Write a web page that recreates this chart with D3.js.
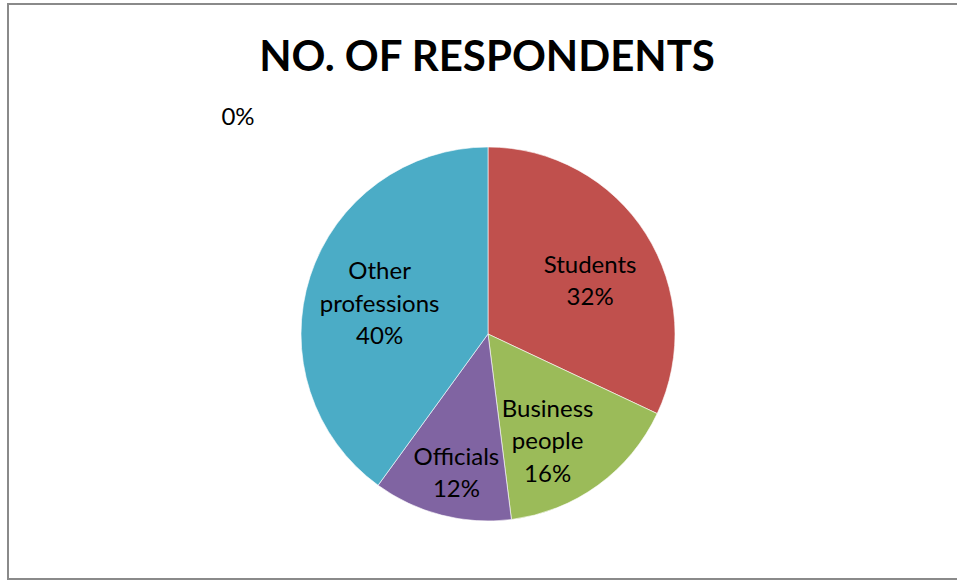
<!DOCTYPE html>
<html>
<head>
<meta charset="utf-8">
<script src="https://cdn.jsdelivr.net/npm/d3@7"></script>
<style>
  html, body { margin: 0; padding: 0; background: #fff; }
  svg { display: block; }
</style>
</head>
<body>
<svg id="chart" width="957" height="584"></svg>
<script>
// Respondent groups and their shares (percent)
const categories = ["", "Students", "Business people", "Officials", "Other professions"];
const shares = [0, 32, 16, 12, 40];
const sliceColors = ["#4F81BD", "#C0504D", "#9BBB59", "#8064A2", "#4BACC6"];
const chartTitle = "NO. OF RESPONDENTS";

// Label text lines per slice (category name wrapped, then percentage)
const labelLines = [[], ["Students"], ["Business", "people"], ["Officials"], ["Other", "professions"]];

// Layout: per-slice nudges of the label block from the arc centroid
const labelNudge = [
  { dx: -250, dy: -102 },
  { dx: 5, dy: 8 },
  { dx: -8, dy: 14 },
  { dx: -3, dy: 27 },
  { dx: 1, dy: 5 }
];

const W = 957, H = 584;
const cx = 488, cy = 334, R = 187;
const svg = d3.select("#chart");

// Chart frame (open on the right side)
svg.append("path")
  .attr("d", `M${W + 5},4 H8 V579 H${W + 5}`)
  .attr("fill", "none")
  .attr("stroke", "#8a8a8a")
  .attr("stroke-width", 2);

// Title
svg.append("text")
  .attr("x", 487)
  .attr("y", 71)
  .attr("text-anchor", "middle")
  .attr("font-family", "Lato, 'Open Sans', sans-serif")
  .attr("font-weight", "bold")
  .attr("font-size", 42)
  .attr("fill", "#000")
  .text(chartTitle);

const data = categories.map((c, i) => ({ name: c, value: shares[i], i }));

const pie = d3.pie().sort(null).value(d => d.value);
const arc = d3.arc().innerRadius(0).outerRadius(R);
const labelArc = d3.arc().innerRadius(115).outerRadius(115);

const g = svg.append("g").attr("transform", `translate(${cx},${cy})`);
const arcs = pie(data);

g.selectAll("path.slice")
  .data(arcs)
  .join("path")
  .attr("class", "slice")
  .attr("d", arc)
  .attr("fill", d => sliceColors[d.data.i])
  .attr("stroke", "#ffffff")
  .attr("stroke-width", d => d.data.value > 0 ? 0.6 : 0);

const total = d3.sum(shares);
const fmt = v => Math.round(v / total * 100) + "%";
const lineH = 32.5;

g.selectAll("text.lbl")
  .data(arcs)
  .join("text")
  .attr("class", "lbl")
  .attr("text-anchor", "middle")
  .attr("font-family", "Lato, 'Open Sans', sans-serif")
  .attr("font-size", 24)
  .attr("fill", "#000")
  .each(function (d) {
    const [x, y] = labelArc.centroid(d);
    const n = labelNudge[d.data.i];
    const lines = labelLines[d.data.i].concat([fmt(d.data.value)]);
    const top = y + n.dy - (lines.length - 1) * lineH / 2;
    const t = d3.select(this);
    lines.forEach((ln, k) => {
      t.append("tspan")
        .attr("x", x + n.dx)
        .attr("y", top + k * lineH)
        .attr("dy", "0.35em")
        .text(ln);
    });
  });
</script>
</body>
</html>
